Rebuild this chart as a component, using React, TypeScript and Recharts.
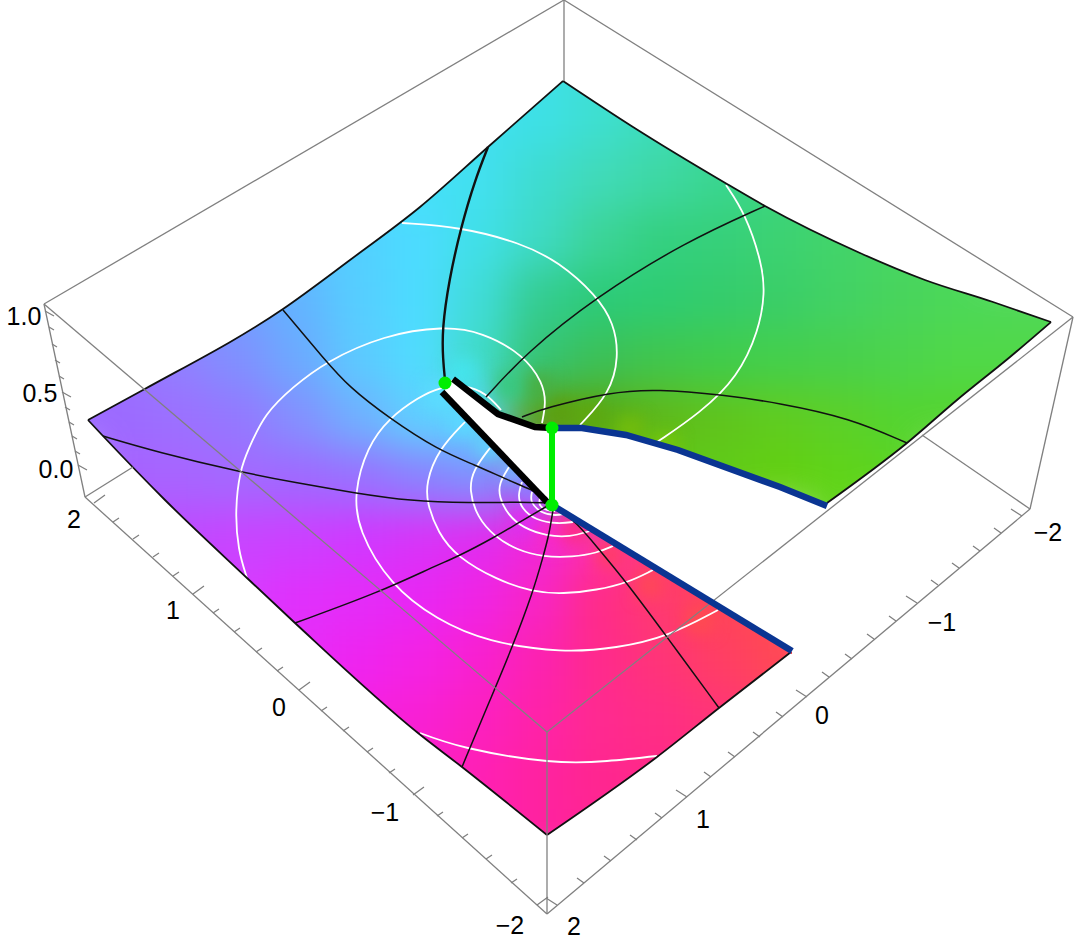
import * as React from "react";
import { ComposedChart, Area, Line, Scatter, XAxis, YAxis } from "recharts";

type Pt = [number, number];

const cellXs = [60, 120, 180, 240, 300, 360, 420, 480, 540, 600, 660, 720, 780, 840, 900, 960, 1020, 1080];
const cellYs = [60, 120, 180, 240, 300, 360, 420, 480, 540, 600, 660, 720, 780, 840];
const c0 = "";
const cellRows: string[][] = [
  [c0, c0, c0, c0, c0, c0, c0, "#40e0f0", "#3ee0e8", "#3edfd8", "#3edcc0", c0, c0, c0, c0, c0, c0, c0],
  [c0, c0, c0, c0, c0, c0, "#44e0f8", "#40e0f0", "#3ee0e6", "#3edfd0", "#3ddcb8", "#3cd8a0", c0, c0, c0, c0, c0, c0],
  [c0, c0, c0, c0, c0, "#4cdcff", "#44e0f8", "#42e0f0", "#3edcd0", "#40dab8", "#3ed8a4", "#3ad690", "#3cd680", "#40d678", c0, c0, c0, c0],
  [c0, c0, c0, c0, "#5cc4ff", "#52d0ff", "#4cdcff", "#40e0e8", "#3edac4", "#3cd498", "#34d080", "#36d07a", "#3cd272", "#42d46a", "#48d664", "#4cd860", c0, c0],
  [c0, c0, "#7c98ff", "#70a0ff", "#62b4ff", "#56ceff", "#4cdcff", "#40dcd8", "#34cc90", "#2ccb78", "#2ecc72", "#34cc6c", "#3ace68", "#42d264", "#48d45c", "#4cd858", "#50d858", "#50d858"],
  ["#9a70ff", "#9a70ff", "#9080ff", "#8090ff", "#6caaff", "#5ccaff", "#50dcff", "#40dcc8", "#36c474", "#3cc058", "#40c64e", "#40cc4c", "#44cf4c", "#48d04c", "#4cd44c", "#50d848", "#50d848", "#50d848"],
  ["#9c6aff", "#9c6aff", "#9c70ff", "#9478ff", "#8490ff", "#70b0ff", "#60d0ff", "#58d8ff", "#5ca010", "#5aa810", "#60b818", "#60c41c", "#60cc20", "#5cd028", "#54d430", "#54d430", "#54d430", c0],
  [c0, "#a860ff", "#a864ff", "#a468ff", "#a068ff", "#9a70ff", "#8c80ff", "#8090ff", "#a060f0", "#60c818", "#60c818", "#60cc18", "#62d010", "#60d418", "#5cd420", c0, c0, c0],
  [c0, "#c048ff", "#c048ff", "#c844ff", "#cc40ff", "#d038ff", "#d834f8", "#e02cf0", "#f028d8", "#ff30a8", "#ff3c70", "#ff4458", c0, "#60d418", c0, c0, c0, c0],
  [c0, c0, "#d83cff", "#d83cff", "#e030fc", "#e42cf8", "#e826f4", "#f024e4", "#f824c4", "#ff2c88", "#ff3a70", "#ff4458", "#ff4a50", c0, c0, c0, c0, c0],
  [c0, c0, c0, "#e82cf8", "#e82cf8", "#ee24f0", "#f422e4", "#f820d0", "#fc22b0", "#ff2a8c", "#ff3478", "#ff3e64", "#ff4856", "#ff4a50", c0, c0, c0, c0],
  [c0, c0, c0, c0, "#f620e0", "#f620e0", "#f820d4", "#fc20c0", "#ff22a8", "#ff2a90", "#ff2e84", "#ff3478", "#ff3e68", c0, c0, c0, c0, c0],
  [c0, c0, c0, c0, c0, "#fc20c8", "#fc20c8", "#ff20b4", "#ff22a0", "#ff2690", "#ff2888", "#ff2e80", c0, c0, c0, c0, c0, c0],
  [c0, c0, c0, c0, c0, c0, c0, "#ff20b0", "#ff22a0", "#ff2494", "#ff2888", c0, c0, c0, c0, c0, c0, c0],
];
// smaller patches where the colour turns quickly, around the cut
const finePatches = [
  { x: 462, y: 372, color: "#44e4ec" },
  { x: 440, y: 395, color: "#5cdcff" },
  { x: 465, y: 420, color: "#5cd8ff" },
  { x: 490, y: 445, color: "#62d0ff" },
  { x: 515, y: 470, color: "#72b4ff" },
  { x: 530, y: 490, color: "#9078ff" },
  { x: 510, y: 385, color: "#38c880" },
  { x: 540, y: 388, color: "#48b044" },
  { x: 560, y: 412, color: "#5ca010" },
  { x: 590, y: 415, color: "#5ea810" },
  { x: 630, y: 430, color: "#72bc0c" },
  { x: 665, y: 448, color: "#78c808" },
  { x: 525, y: 520, color: "#e02cf0" },
  { x: 550, y: 535, color: "#f828c8" },
  { x: 575, y: 530, color: "#ff2c88" },
  { x: 610, y: 555, color: "#ff3c68" },
  { x: 650, y: 585, color: "#ff4658" },
  { x: 700, y: 620, color: "#ff4a50" },
];

const surfaceTopLeft: Pt[] = [[88, 420], [143, 390], [283, 309], [350, 260], [420, 207], [488, 147], [563, 81]];
const surfaceTopRight: Pt[] = [[563, 81], [633, 127], [727, 184], [765, 206], [860, 253], [925, 280], [993, 302], [1051, 322]];
const surfaceBottomLeft: Pt[] = [[88, 420], [103, 436], [165, 500], [247, 578], [295, 623], [418, 733], [462, 767], [547, 835]];
const surfaceBottomRight: Pt[] = [[547, 835], [657, 757], [719, 708], [791, 652]];
const surfaceRight: Pt[] = [[827, 503], [907, 443], [957, 400], [1010, 357], [1051, 322]];
const blueUpper: Pt[] = [[552, 428], [582, 428], [626, 435], [678, 450], [780, 487], [827, 506]];
const blueLower: Pt[] = [[552, 505], [792, 651]];
const blackUpper: Pt[] = [[453, 379], [498, 414], [535, 427], [552, 428]];
const blackLower: Pt[] = [[442, 392], [547, 502]];
const greenLink: Pt[] = [[552, 428], [552, 505]];
const greenDots: Pt[] = [[445, 383], [552, 428], [552, 505]];

const slitBand = [
  { x: 445, low: 384, high: 392 },
  { x: 453, low: 379, high: 403 },
  { x: 498, low: 414, high: 450 },
  { x: 535, low: 427, high: 489 },
  { x: 552, low: 428, high: 505 },
];
const notchBand = [
  { x: 552, low: 428, high: 505 },
  { x: 582, low: 428, high: 523 },
  { x: 626, low: 435, high: 550 },
  { x: 678, low: 450, high: 582 },
  { x: 780, low: 487, high: 644 },
  { x: 792, low: 492, high: 652 },
  { x: 792, low: 492, high: 948 },
  { x: 827, low: 506, high: 948 },
];
const seamBand = [
  { x: 790, low: 654, high: 948 },
  { x: 795, low: 654, high: 948 },
];

const meshLines: Pt[][] = [
  [[488, 147], [475, 180], [461, 227], [449, 280], [442, 330], [443, 360], [445, 380]],
  [[765, 206], [685, 242], [596, 297], [526, 353], [486, 397]],
  [[907, 443], [850, 418], [779, 403], [724, 395], [657, 389], [610, 392], [545, 408], [522, 417]],
  [[283, 310], [325, 360], [349, 387], [389, 418], [438, 450], [475, 465], [508, 480], [532, 490], [547, 498]],
  [[103, 436], [157, 452], [240, 472], [297, 483], [355, 493], [410, 501], [470, 503], [520, 502], [548, 503]],
  [[295, 623], [380, 592], [437, 565], [457, 557], [495, 537], [518, 523], [549, 505]],
  [[462, 767], [490, 700], [512, 648], [533, 592], [543, 557], [549, 535], [553, 510]],
  [[719, 708], [667, 637], [627, 583], [597, 547], [577, 523], [556, 507]],
];

const contourLines: Pt[][] = [
  [[726, 185], [745, 213], [762, 263], [765, 293], [759, 330], [738, 377], [700, 413], [657, 442]],
  [[402, 223], [461, 227], [521, 243], [559, 262], [596, 295], [614, 323], [619, 357], [610, 393], [580, 425]],
  [[247, 578], [238, 550], [235, 510], [240, 470], [248, 450], [265, 413], [293, 387], [325, 362], [384, 335], [444, 326], [482, 332], [524, 355], [543, 383], [546, 403], [542, 423]],
  [[501, 410], [486, 393], [465, 385], [440, 387], [419, 397], [389, 418], [367, 447], [354, 493], [358, 530], [390, 585], [437, 620], [487, 642], [563, 653], [617, 648], [667, 637], [718, 610]],
  [[465, 422], [438, 450], [426, 483], [427, 503], [438, 533], [457, 557], [497, 580], [533, 592], [563, 594], [597, 590], [627, 583], [653, 570]],
  [[490, 448], [473, 470], [469, 490], [477, 517], [495, 537], [517, 550], [543, 557], [573, 557], [597, 553], [613, 546]],
  [[509, 467], [499, 483], [499, 497], [508, 515], [523, 528], [547, 536], [570, 537], [590, 531]],
  [[522, 482], [519, 495], [523, 508], [537, 519], [557, 523], [573, 522]],
  [[532, 492], [532, 502], [542, 512], [555, 515], [563, 514]],
  [[540, 498], [540, 505], [547, 510], [555, 511]],
  [[420, 733], [468, 748], [547, 761], [607, 761], [657, 756]],
];

const boxEdges: Pt[][] = [
  [[564, 0], [44, 304]],
  [[564, 0], [1073, 317]],
  [[564, 0], [564, 81]],
  [[44, 304], [547, 732]],
  [[1073, 317], [547, 732]],
  [[44, 304], [85, 497]],
  [[1073, 317], [1030, 509]],
  [[85, 497], [547, 914]],
  [[1030, 509], [547, 914]],
  [[547, 732], [547, 914]],
  [[85, 497], [133, 467]],
  [[1030, 509], [922, 435]],
];

const leftTickBases: Pt[] = [[94, 503], [113, 522], [133, 539], [153, 557], [173, 576], [193, 594], [213, 613], [234, 632], [256, 652], [277, 671], [299, 690], [321, 711], [343, 731], [367, 752], [389, 773], [413, 795], [437, 816], [462, 838], [486, 859], [511, 883], [537, 905]];
const rightTickBases: Pt[] = [[557, 905], [584, 883], [611, 861], [637, 840], [662, 818], [687, 797], [711, 777], [735, 757], [760, 737], [783, 717], [807, 697], [829, 677], [852, 659], [874, 639], [896, 621], [917, 603], [938, 585], [959, 568], [980, 551], [1001, 533], [1022, 516]];
const zTickBases: Pt[] = [[45, 311], [49, 327], [52, 344], [55, 360], [59, 376], [62, 392], [65, 407], [69, 422], [72, 436], [75, 451], [78, 465]];

const tickLabels = [
  { x: 24, y: 316, text: "1.0" },
  { x: 40, y: 393, text: "0.5" },
  { x: 56, y: 469, text: "0.0" },
  { x: 74, y: 519, text: "2" },
  { x: 173, y: 610, text: "1" },
  { x: 279, y: 707, text: "0" },
  { x: 385, y: 812, text: "\u22121" },
  { x: 510, y: 925, text: "\u22122" },
  { x: 574, y: 926, text: "2" },
  { x: 703, y: 819, text: "1" },
  { x: 822, y: 715, text: "0" },
  { x: 942, y: 622, text: "\u22121" },
  { x: 1048, y: 532, text: "\u22122" },
];

const toRows = (pts: Pt[]) => pts.map(([x, y]) => ({ x, y }));

const cells = cellRows.flatMap((row, r) =>
  row.flatMap((color, i) => (color ? [{ x: cellXs[i], y: cellYs[r], color }] : [])),
);

// short tick strokes broken up with empty rows so one Line draws them all
const tickRows = (bases: Pt[], minor: Pt, major: Pt) =>
  bases.flatMap(([x, y], i) => {
    const d = i % 5 === 0 ? major : minor;
    return [{ x, y }, { x: x + d[0], y: y + d[1] }, { x: x + d[0], y: null as number | null }];
  });

const maskAboveLeft = surfaceTopLeft.map(([x, y]) => ({ x, low: 0, high: y }));
const maskAboveRight = surfaceTopRight.map(([x, y]) => ({ x, low: 0, high: y }));
const maskBelowLeft = surfaceBottomLeft.map(([x, y]) => ({ x, low: y, high: 948 }));
const maskBelowMiddle = surfaceBottomRight.map(([x, y]) => ({ x, low: y, high: 948 }));
const maskBelowRight = surfaceRight.map(([x, y]) => ({ x, low: y, high: 948 }));
const maskLeft = [{ x: 0, low: 0, high: 948 }, { x: 88, low: 0, high: 948 }];
const maskRight = [{ x: 1051, low: 0, high: 948 }, { x: 1080, low: 0, high: 948 }];

const bands = [maskAboveLeft, maskAboveRight, maskBelowLeft, maskBelowMiddle, maskBelowRight, maskLeft, maskRight, slitBand, notchBand, seamBand];

const ColourCell = (p: any) => (
  <rect x={p.cx - 31} y={p.cy - 31} width={62} height={62} fill={p.payload.color} />
);
const FinePatch = (p: any) => (
  <rect x={p.cx - 13} y={p.cy - 13} width={26} height={26} fill={p.payload.color} />
);
const TickText = (p: any) => (
  <text x={p.cx} y={p.cy} textAnchor="middle" dominantBaseline="central" fontFamily="Liberation Sans" fontSize={25} fill="#000">
    {p.payload.text}
  </text>
);
const GreenDot = (p: any) => <circle cx={p.cx} cy={p.cy} r={6.5} fill="#00ee00" />;

const curve = (key: string, pts: any[], stroke: string, width: number, type: any = "linear", z = 3) => (
  <Line
    key={key}
    data={pts}
    dataKey="y"
    type={type}
    stroke={stroke}
    strokeWidth={width}
    dot={false}
    activeDot={false}
    legendType="none"
    isAnimationActive={false}
    zIndex={z}
  />
);

export default function App() {
  return (
    <div style={{ position: "absolute", left: 0, top: 0, width: 1080, height: 948, background: "#fff" }}>
      <style>{`.mesh { filter: blur(20px); } .mesh-fine { filter: blur(8px); }`}</style>
      <ComposedChart width={1080} height={948} margin={{ top: 0, right: 0, bottom: 0, left: 0 }}>
        <XAxis type="number" dataKey="x" domain={[0, 1080]} allowDataOverflow hide />
        <YAxis type="number" dataKey="y" domain={[0, 948]} reversed allowDataOverflow hide />

        <Scatter data={cells} className="mesh" shape={ColourCell} isAnimationActive={false} zIndex={1} />
        <Scatter data={finePatches} className="mesh-fine" shape={FinePatch} isAnimationActive={false} zIndex={1} />

        {bands.map((band, i) => (
          <Area
            key={i}
            data={band.map((b) => ({ x: b.x, band: [b.low, b.high] }))}
            dataKey="band"
            type={i < 5 ? "monotoneX" : "linear"}
            fill="#ffffff"
            fillOpacity={1}
            stroke="none"
            dot={false}
            activeDot={false}
            isAnimationActive={false}
            zIndex={2}
          />
        ))}

        {contourLines.map((c, i) => curve(`w${i}`, toRows(c), "#ffffff", 1.8, i < 7 ? "basis" : "natural"))}
        {meshLines.map((c, i) => curve(`m${i}`, toRows(c), "#111111", i === 0 ? 2.4 : 1.5, "basis"))}
        {curve("tl0", toRows(surfaceTopLeft), "#111111", 1.8, "monotoneX")}
        {curve("tr0", toRows(surfaceTopRight), "#111111", 1.8, "monotoneX")}
        {curve("bl", toRows(surfaceBottomLeft), "#111111", 1.8, "monotoneX")}
        {curve("br", toRows(surfaceBottomRight), "#111111", 1.8, "monotoneX")}
        {curve("rt", toRows(surfaceRight), "#111111", 1.8, "monotoneX")}
        {boxEdges.map((e, i) => curve(`b${i}`, toRows(e), "#808080", 1.3))}
        {curve("tl", tickRows(leftTickBases, [6, -4], [11, -8]), "#808080", 1.3)}
        {curve("tr", tickRows(rightTickBases, [-7, -5], [-11, -7]), "#808080", 1.3)}
        {curve("tz", tickRows(zTickBases, [5, 3], [9, 5]), "#808080", 1.3)}
        {curve("bu", toRows(blueUpper), "#0a3592", 6.5, "linear", 4)}
        {curve("bd", toRows(blueLower), "#0a3592", 6.5, "linear", 4)}
        {curve("ku", toRows(blackUpper), "#000000", 6.5, "linear", 4)}
        {curve("kd", toRows(blackLower), "#000000", 6.5, "linear", 4)}
        {curve("gl", toRows(greenLink), "#00ee00", 6, "linear", 4)}

        <Scatter data={toRows(greenDots)} shape={GreenDot} isAnimationActive={false} zIndex={5} />
        <Scatter data={tickLabels} shape={TickText} isAnimationActive={false} zIndex={5} />
      </ComposedChart>
    </div>
  );
}
